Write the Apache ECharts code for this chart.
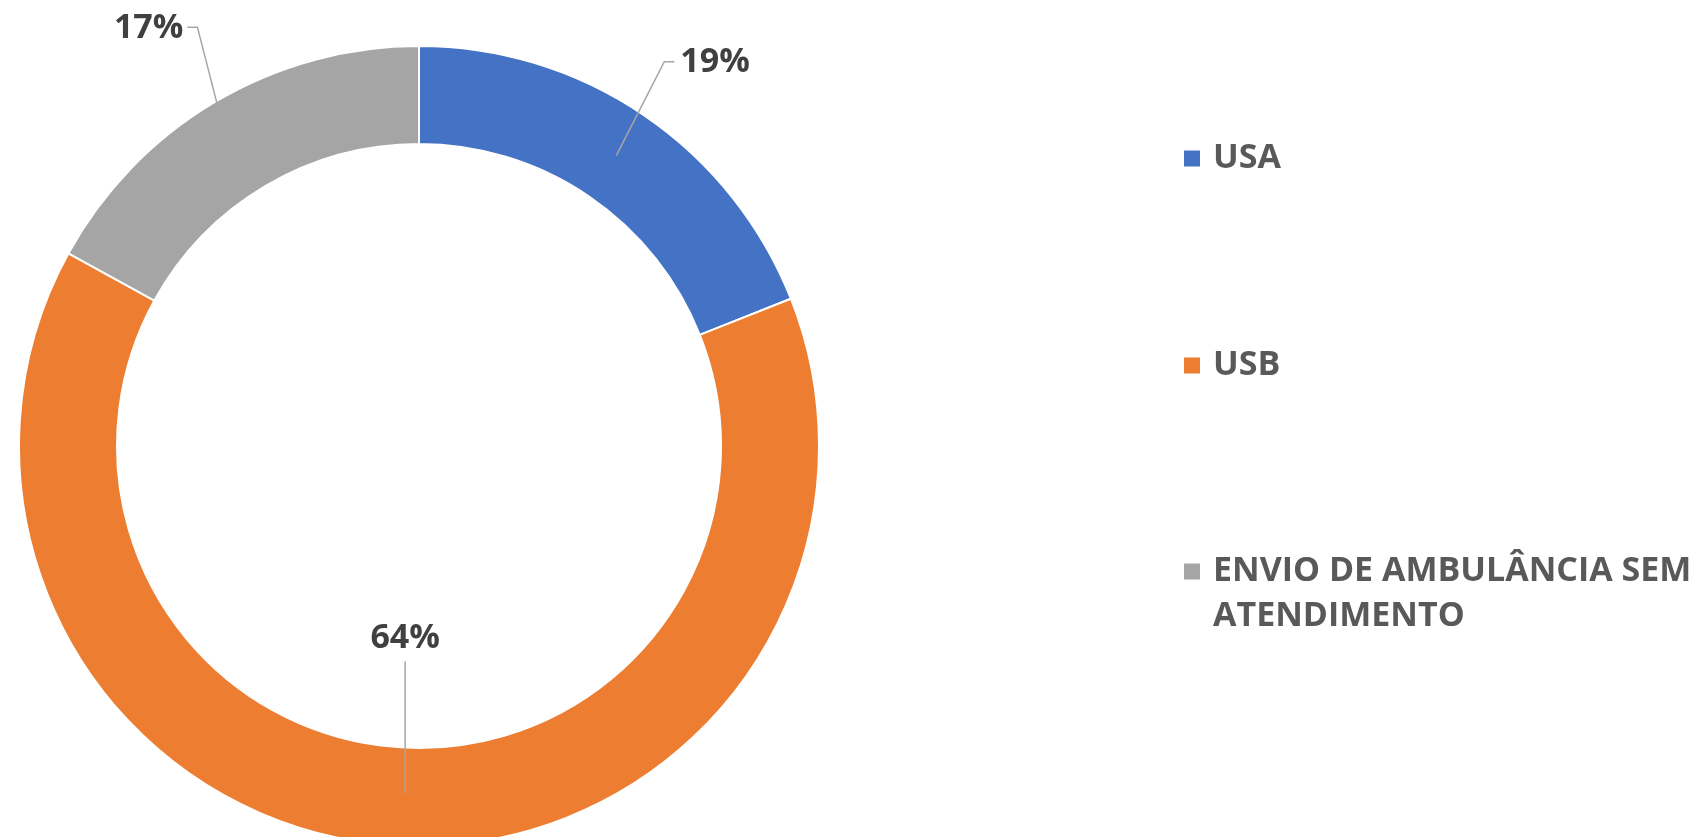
<!DOCTYPE html>
<html>
<head>
<meta charset="utf-8">
<script src="https://cdn.jsdelivr.net/npm/echarts@6/dist/echarts.min.js"></script>
<style>
html, body { margin: 0; padding: 0; background: #ffffff; }
#c { width: 1694px; height: 837px; }
</style>
</head>
<body>
<div id="c"></div>
<script>
const categories = ['USA', 'USB', 'ENVIO DE AMBULÂNCIA SEM ATENDIMENTO'];
const values = [19, 64, 17];
const colors = ['#4472C4', '#ED7D31', '#A5A5A5'];

const CX = 419, CY = 446, R_OUT = 400, R_IN = 302;
const R_MID = (R_OUT + R_IN) / 2;
// leader line geometry for each label (start radius, shift, elbow offset, stub, side)
const LEADERS = [
  { r: R_MID, sx: 0, ex: 48, ey: -94, stub: 10, align: 'left', gap: 6, dy: 1 },
  { r: R_MID - 3, sx: 8, ex: 0, ey: -132, stub: 0, align: 'center', gap: 0, dy: -23 },
  { r: R_OUT - 4, sx: 0, ex: -20, ey: -78, stub: -10, align: 'right', gap: -4, dy: 1 }
];

const pieData = categories.map((n, i) => ({ name: n, value: values[i] }));

const legendBase = {
  orient: 'vertical',
  left: 1182,
  padding: 0,
  itemWidth: 18,
  itemHeight: 18,
  itemGap: 162,
  icon: 'rect',
  selectedMode: false,
  formatter: n => n.indexOf(' SEM ') >= 0 ? '\n' + n.replace(' SEM ', ' SEM\n') : n,
  textStyle: {
    fontFamily: 'Open Sans',
    fontWeight: 'bold',
    fontSize: 34,
    color: '#595959',
    lineHeight: 45,
    padding: [0, 0, 0, 7]
  }
};

const chart = echarts.init(document.getElementById('c'), null, { renderer: 'canvas' });
chart.setOption({
  animation: false,
  backgroundColor: '#ffffff',
  color: colors,
  legend: [
    Object.assign({}, legendBase, { top: 136, data: categories.slice(0, 2) }),
    Object.assign({}, legendBase, { top: 504, data: categories.slice(2) })
  ],
  series: [{
    type: 'pie',
    name: 'ring',
    center: [CX, CY],
    radius: [R_IN, R_OUT],
    startAngle: 90,
    clockwise: true,
    z: 2,
    itemStyle: { borderColor: '#ffffff', borderWidth: 2 },
    emphasis: { disabled: true },
    label: { show: false },
    labelLine: { show: false },
    data: pieData
  }, {
    type: 'pie',
    name: 'labels',
    center: [CX, CY],
    radius: [R_IN, R_OUT],
    startAngle: 90,
    clockwise: true,
    z: 5,
    silent: true,
    avoidLabelOverlap: false,
    percentPrecision: 0,
    itemStyle: { color: 'rgba(0,0,0,0)', borderWidth: 0 },
    emphasis: { disabled: true },
    label: {
      show: true,
      position: 'outside',
      formatter: '{d}%',
      fontFamily: 'Open Sans',
      fontWeight: 'bold',
      fontSize: 34,
      color: '#404040'
    },
    labelLine: {
      show: true,
      length: 30,
      length2: 10,
      smooth: false,
      lineStyle: { color: '#A6A6A6', width: 1.5 }
    },
    labelLayout: function (p) {
      const g = LEADERS[p.dataIndex];
      const p0 = p.labelLinePoints[0];
      const dx = p0[0] - CX, dy = p0[1] - CY;
      const len = Math.hypot(dx, dy);
      const s = [CX + dx / len * g.r + g.sx, CY + dy / len * g.r];
      const e = [s[0] + g.ex, s[1] + g.ey];
      const t = [e[0] + g.stub, e[1]];
      return {
        x: t[0] + g.gap,
        y: t[1] + g.dy,
        align: g.align,
        verticalAlign: 'middle',
        labelLinePoints: [s, e, t]
      };
    },
    data: pieData
  }]
});
</script>
</body>
</html>
